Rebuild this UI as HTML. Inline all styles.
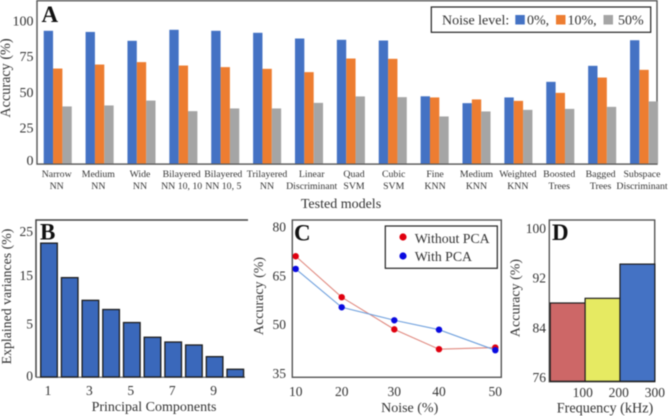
<!DOCTYPE html>
<html lang="en">
<head>
<meta charset="utf-8">
<title>Model accuracy figure</title>
<style>
html,body{margin:0;padding:0;background:#fff;width:670px;height:416px;overflow:hidden}
svg{display:block;filter:blur(0.4px)}
text{font-family:"Liberation Serif",serif;fill:#333}
.panel{font-weight:bold;fill:#111}
.frame{fill:none;stroke:#555;stroke-width:1.4}
</style>
</head>
<body>
<svg id="fig" xmlns="http://www.w3.org/2000/svg" width="670" height="416" viewBox="0 0 670 416">
  <g id="panel-a">
    <rect class="frame" x="37" y="0.7" width="620" height="163.4"/>
    <text class="panel" x="41.5" y="22" font-size="23">A</text>
    <text transform="translate(10,78) rotate(-90)" text-anchor="middle" font-size="14.2">Accuracy (%)</text>
    <text x="341" y="208" text-anchor="middle" font-size="14">Tested models</text>
    <g>
      <rect x="431.3" y="7" width="219.4" height="25.3" fill="#fff" stroke="#222" stroke-width="1.2"/>
      <text x="442" y="24.5" font-size="14">Noise level:</text>
      <rect x="515.3" y="15" width="9.5" height="9.5" fill="#4472c4"/>
      <text x="527" y="24.5" font-size="14">0%,</text>
      <rect x="556" y="15" width="9.5" height="9.5" fill="#ed7d31"/>
      <text x="567.5" y="24.5" font-size="14">10%,</text>
      <rect x="603.5" y="15" width="9.5" height="9.5" fill="#a5a5a5"/>
      <text x="618" y="24.5" font-size="14">50%</text>
    </g>
  </g>
  <g id="panel-b">
    <text transform="translate(11,296.5) rotate(-90)" text-anchor="middle" font-size="13.8">Explained variances (%)</text>
    <text x="154" y="411" text-anchor="middle" font-size="14">Principal Components</text>
  </g>
  <g id="panel-c">
    <text transform="translate(263,296) rotate(-90)" text-anchor="middle" font-size="14">Accuracy (%)</text>
    <text x="409.7" y="412" text-anchor="middle" font-size="14">Noise (%)</text>
  </g>
  <g id="panel-d">
    <text transform="translate(519.5,298) rotate(-90)" text-anchor="middle" font-size="14">Accuracy (%)</text>
    <text x="605" y="412.5" text-anchor="middle" font-size="14.2">Frequency (kHz)</text>
  </g>
</svg>
<script>
const modelLine1 = ["Narrow","Medium","Wide","Bilayered","Bilayered","Trilayered","Linear","Quad","Cubic","Fine","Medium","Weighted","Boosted","Bagged","Subspace"];
const modelLine2 = ["NN","NN","NN","NN 10, 10","NN 10, 5","NN","Discriminant","SVM","SVM","KNN","KNN","KNN","Trees","Trees","Discriminant"];
const noise0 = [92.8,92,85.8,93.5,92.8,91.4,87.4,86.5,86,47,42.2,46.2,57.1,68.3,86.2];
const noise10 = [66.4,69.2,70.9,68.5,67.4,66.2,63.9,73.4,73.2,46.2,44.8,43.8,49.4,60.1,65.5];
const noise50 = [39.9,40.6,44,36.6,38.5,38.5,42.4,46.9,46.4,32.9,36.4,37.5,38.2,39.6,43.4];
const aTicks = [0,25,50,75,100];

const pcaValues = [22.4,14.6,9.9,8,5.3,3.75,3.3,3.02,1.92,0.73];
const pcaTickLabels = [1,3,5,7,9];
const bTicks = [0,5,15,25];

const noiseLevels = [10,20,30,40,50];
const withoutPca = [71,58.4,48.5,42.4,42.9];
const withPca = [67.1,55.3,51.3,48.4,42.1];
const cTicks = [35,50,65,80];

const freqLabels = [100,200,300];
const freqValues = [88,88.75,94.25];
const dTicks = [76,84,92,100];

const NS = "http://www.w3.org/2000/svg";
function mk(tag, attrs, parent, txt) {
  const el = document.createElementNS(NS, tag);
  for (const k in attrs) el.setAttribute(k, attrs[k]);
  if (txt !== undefined) el.textContent = txt;
  parent.appendChild(el);
  return el;
}
/* piecewise axis: the original figure's axes are hand-placed, so ticks are not evenly spaced */
function piecewise(domain, range) {
  return function (v) {
    let i = 0;
    while (i < domain.length - 2 && v > domain[i + 1]) i++;
    return range[i] + (v - domain[i]) * (range[i + 1] - range[i]) / (domain[i + 1] - domain[i]);
  };
}

/* Panel A */
const pa = document.getElementById("panel-a");
const ya = v => 163.5 - 1.43 * v;
const groupX = i => 43.7 + 41.88 * i;
const labelX = piecewise([0, 4, 5, 6, 7, 8, 14], [56.7, 223.3, 267, 311.7, 354, 393.7, 642]);
const aBarW = 9.35;
const aSeries = [noise0, noise10, noise50];
const aColors = ["#4472c4", "#ed7d31", "#a5a5a5"];
aSeries.forEach(function (vals, s) {
  vals.forEach(function (v, i) {
    const r = mk("rect", {x: groupX(i) + s * aBarW, y: ya(v), width: aBarW, height: ya(0) - ya(v), fill: aColors[s]}, pa);
    
    
  });
});
aTicks.forEach(function (t) {
  const l = mk("text", {x: 33.5, y: Math.min(ya(t), 160) + 4.8, "text-anchor": "end", "font-size": 14}, pa, t);
  
  
});
modelLine1.forEach(function (m, i) {
  const cx = labelX(i);
  const a = mk("text", {x: cx, y: 177, "text-anchor": "middle", "font-size": 9.8}, pa, m);
  
  
  const b = mk("text", {x: cx, y: 189, "text-anchor": "middle", "font-size": 9.8}, pa, modelLine2[i]);
  
  
});

/* Panel B */
const pb = document.getElementById("panel-b");
const yb = piecewise(bTicks, [377, 324, 275.7, 231.7]);
const xb = i => 40.7 + 20.7 * i;
const bBarW = 16.6;
const bFrame = mk("path", {d: "M36 377.3V220H248", fill: "none", stroke: "#444", "stroke-width": 1.5}, pb);


const bBase = mk("path", {d: "M36 377.3H245", fill: "none", stroke: "#444", "stroke-width": 1}, pb);


pcaValues.forEach(function (v, i) {
  const r = mk("rect", {x: xb(i), y: yb(v), width: bBarW, height: yb(0) - yb(v), fill: "#3a68bb", stroke: "#1d1d1d", "stroke-width": 1.3}, pb);
  
  
});
bTicks.forEach(function (t) {
  const l = mk("text", {x: 33, y: yb(t) + (t === 0 ? 3.5 : 4.5), "text-anchor": "end", "font-size": 13.5}, pb, t);
  
  
});
pcaTickLabels.forEach(function (t) {
  const l = mk("text", {x: xb(t - 1) + bBarW / 2 - 1, y: 395, "text-anchor": "middle", "font-size": 13.5}, pb, t);
  
  
});
const bLetter = mk("text", {class: "panel", x: 40, y: 239.5, "font-size": 23}, pb, "B");



/* Panel C */
const pc = document.getElementById("panel-c");
const yc = v => 227 + (80 - v) * 3.25;
const xc = piecewise(noiseLevels, [295.7, 341.7, 394.3, 439, 495.3]);
const cFrame = mk("rect", {class: "frame", x: 292.3, y: 220, width: 209, height: 157.3}, pc);


const cLines = [[withoutPca, "#e0897f", "#e0000f"], [withPca, "#6fa0dd", "#0a0ae0"]];
cLines.forEach(function (cfg) {
  const pts = cfg[0].map((v, i) => xc(noiseLevels[i]) + "," + yc(v)).join(" ");
  const line = mk("polyline", {points: pts, fill: "none", stroke: cfg[1], "stroke-width": 1.1}, pc);
  
  
});
cLines.forEach(function (cfg) {
  cfg[0].forEach(function (v, i) {
    const d = mk("circle", {cx: xc(noiseLevels[i]), cy: yc(v), r: 3.2, fill: cfg[2]}, pc);
    
    
  });
});
cTicks.forEach(function (t) {
  const l = mk("text", {x: 286, y: yc(t) + 4.5, "text-anchor": "end", "font-size": 13.5}, pc, t);
  
  
});
noiseLevels.forEach(function (t) {
  const l = mk("text", {x: xc(t), y: 396, "text-anchor": "middle", "font-size": 13.5}, pc, t);
  
  
});
const cLetter = mk("text", {class: "panel", x: 294, y: 240.7, "font-size": 23}, pc, "C");


const cLegend = mk("rect", {x: 385.3, y: 226, width: 112, height: 42.3, fill: "#fff", stroke: "#222", "stroke-width": 1.2}, pc);


const lg1 = mk("circle", {cx: 403, cy: 237, r: 3.6, fill: "#e0000f"}, pc);


const lt1 = mk("text", {x: 414.7, y: 243, "font-size": 13.8}, pc, "Without PCA");


const lg2 = mk("circle", {cx: 403, cy: 256, r: 3.6, fill: "#0a0ae0"}, pc);


const lt2 = mk("text", {x: 414.7, y: 261, "font-size": 13.8}, pc, "With PCA");



/* Panel D */
const pd = document.getElementById("panel-d");
const yd = v => 228.3 + (100 - v) * 6.225;
const dFrame = mk("rect", {class: "frame", x: 549.3, y: 220, width: 105.4, height: 161.7}, pd);


const dColors = ["#cd6767", "#e6ea62", "#4472c4"];
freqValues.forEach(function (v, i) {
  const left = 550.2 + i * 34.9;
  const r = mk("rect", {x: left, y: yd(v), width: 34.9, height: 381.3 - yd(v), fill: dColors[i], stroke: "#1d1d1d", "stroke-width": 1.2}, pd);
  
  
});
dTicks.forEach(function (t) {
  const l = mk("text", {x: 546, y: yd(t) + 4.5, "text-anchor": "end", "font-size": 13.5}, pd, t);
  
  
});
freqLabels.forEach(function (t, i) {
  const l = mk("text", {x: 582.7 + i * 36.1, y: 397, "text-anchor": "middle", "font-size": 13.5}, pd, t);
  
  
});
const dLetter = mk("text", {class: "panel", x: 552, y: 240, "font-size": 23}, pd, "D");


</script>
</body>
</html>
